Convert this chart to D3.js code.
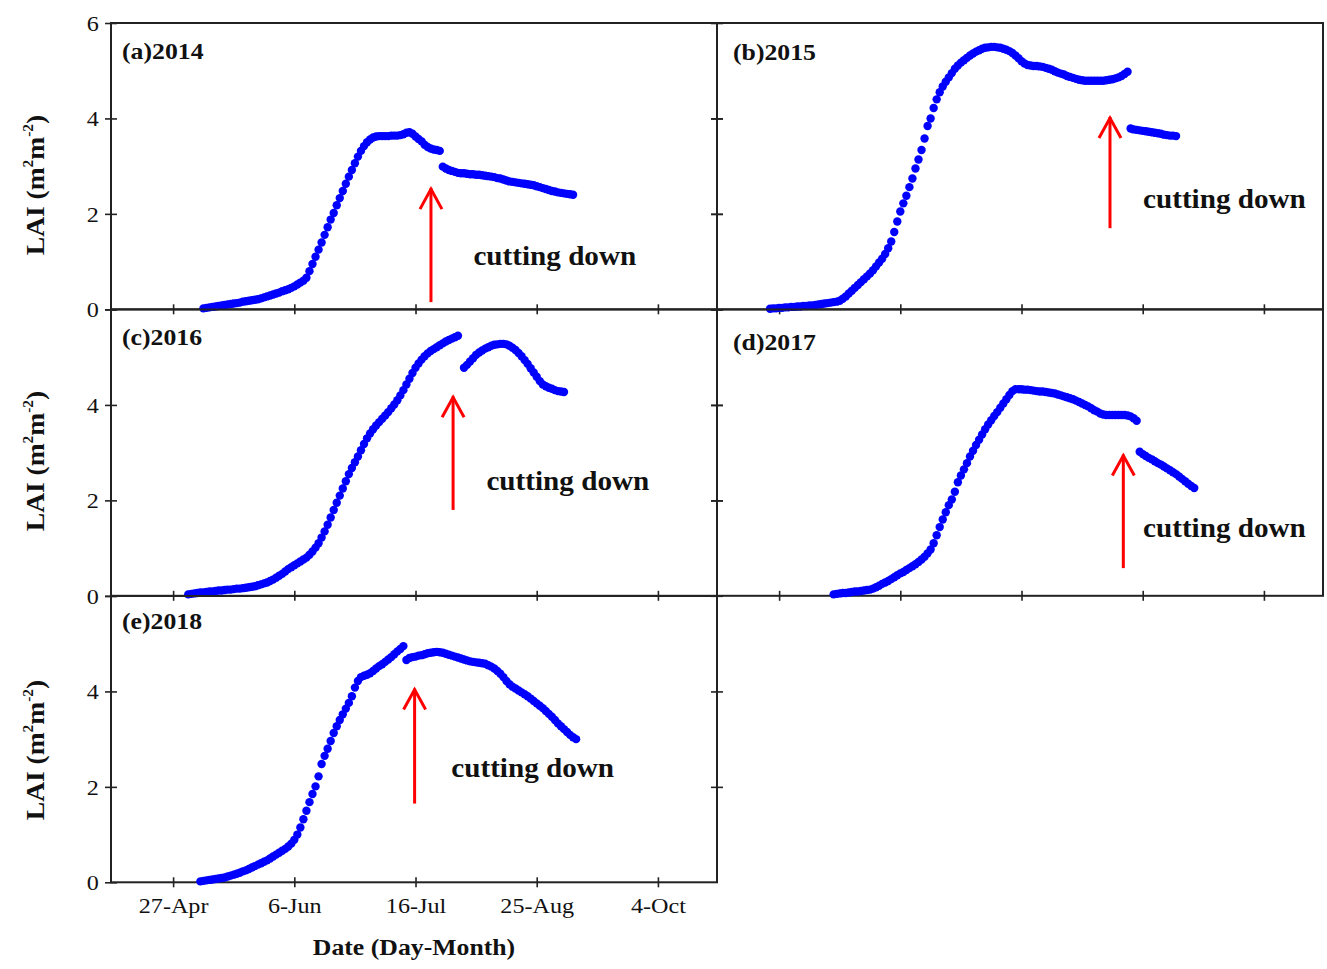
<!DOCTYPE html>
<html>
<head>
<meta charset="utf-8">
<script src="https://cdn.jsdelivr.net/npm/d3@7"></script>
<style>
body{margin:0;background:#fff}
</style>
</head>
<body>
<div id="chart"></div>
<script>
// x axis ticks (day of year) and their labels
var tickDays = [117, 157, 197, 237, 277];
var tickLabels = ["27-Apr", "6-Jun", "16-Jul", "25-Aug", "4-Oct"];
var yTicks = [0, 2, 4, 6];
var panelNames = ["(a)2014", "(b)2015", "(c)2016", "(d)2017", "(e)2018"];

// LAI daily values before cutting down (first day of year in preStart)
var preStart = [127, 114, 122, 135, 126];
var pre2014 = [0.02,0.03,0.04,0.05,0.06,0.07,0.08,0.09,0.10,0.11,
  0.12,0.13,0.14,0.16,0.17,0.18,0.19,0.20,0.21,0.23,
  0.25,0.27,0.29,0.31,0.33,0.35,0.38,0.40,0.42,0.45,
  0.48,0.52,0.56,0.60,0.66,0.80,0.95,1.10,1.25,1.40,
  1.56,1.72,1.88,2.02,2.18,2.33,2.48,2.63,2.78,2.92,
  3.06,3.20,3.32,3.42,3.50,3.56,3.60,3.62,3.63,3.63,
  3.63,3.63,3.64,3.64,3.64,3.65,3.67,3.70,3.71,3.68,
  3.62,3.57,3.52,3.45,3.40,3.37,3.35,3.34,3.32];
var pre2015 = [0.01,0.02,0.02,0.03,0.03,0.04,0.04,0.05,0.05,0.06,
  0.06,0.07,0.07,0.08,0.08,0.09,0.10,0.11,0.12,0.13,
  0.14,0.15,0.16,0.18,0.22,0.27,0.33,0.39,0.45,0.51,
  0.57,0.63,0.69,0.75,0.82,0.90,0.98,1.06,1.16,1.28,
  1.42,1.62,1.84,2.05,2.22,2.38,2.56,2.74,2.95,3.14,
  3.34,3.58,3.84,4.00,4.22,4.40,4.55,4.67,4.77,4.86,
  4.95,5.04,5.11,5.17,5.22,5.27,5.32,5.36,5.40,5.43,
  5.46,5.48,5.49,5.50,5.50,5.49,5.48,5.46,5.44,5.41,
  5.37,5.32,5.26,5.20,5.15,5.12,5.11,5.10,5.10,5.09,
  5.08,5.06,5.04,5.02,4.99,4.96,4.94,4.92,4.89,4.87,
  4.85,4.83,4.81,4.80,4.79,4.79,4.79,4.79,4.79,4.79,
  4.79,4.80,4.81,4.82,4.84,4.86,4.89,4.93,4.98];
var pre2016 = [0.03,0.04,0.05,0.06,0.07,0.07,0.08,0.09,0.09,0.10,
  0.11,0.11,0.12,0.13,0.13,0.14,0.15,0.15,0.16,0.17,
  0.18,0.19,0.20,0.22,0.24,0.26,0.28,0.31,0.34,0.38,
  0.42,0.46,0.51,0.56,0.60,0.64,0.68,0.72,0.76,0.80,
  0.86,0.93,1.01,1.10,1.22,1.35,1.49,1.64,1.80,1.95,
  2.10,2.25,2.40,2.55,2.68,2.80,2.92,3.05,3.18,3.30,
  3.40,3.49,3.57,3.64,3.71,3.78,3.85,3.93,4.01,4.10,
  4.20,4.31,4.43,4.55,4.67,4.78,4.87,4.95,5.02,5.08,
  5.13,5.17,5.21,5.25,5.29,5.33,5.36,5.39,5.42,5.45];
var pre2017 = [0.03,0.04,0.05,0.06,0.06,0.07,0.08,0.09,0.09,0.10,
  0.11,0.12,0.13,0.15,0.18,0.21,0.25,0.28,0.31,0.35,
  0.39,0.43,0.47,0.50,0.54,0.58,0.62,0.66,0.71,0.76,
  0.82,0.89,0.97,1.10,1.27,1.44,1.60,1.75,1.90,2.02,
  2.18,2.38,2.52,2.65,2.78,2.92,3.04,3.16,3.27,3.38,
  3.49,3.59,3.68,3.77,3.85,3.94,4.03,4.12,4.21,4.29,
  4.33,4.33,4.33,4.32,4.32,4.31,4.30,4.29,4.28,4.28,
  4.27,4.26,4.25,4.24,4.22,4.20,4.18,4.16,4.14,4.12,
  4.09,4.06,4.03,4.00,3.97,3.93,3.89,3.86,3.82,3.80,
  3.79,3.79,3.79,3.79,3.79,3.79,3.79,3.78,3.76,3.72,
  3.67];
var pre2018 = [0.02,0.03,0.04,0.05,0.06,0.07,0.08,0.09,0.10,0.12,
  0.14,0.16,0.18,0.20,0.23,0.25,0.28,0.31,0.34,0.37,
  0.40,0.43,0.46,0.50,0.54,0.58,0.62,0.66,0.70,0.75,
  0.81,0.89,1.00,1.15,1.32,1.50,1.68,1.85,2.01,2.22,
  2.48,2.65,2.80,2.96,3.13,3.27,3.40,3.52,3.64,3.76,
  3.90,4.08,4.22,4.30,4.33,4.35,4.38,4.43,4.48,4.53,
  4.57,4.62,4.67,4.72,4.78,4.84,4.89,4.95];

// LAI daily values after cutting down
var postStart = [206, 233, 213, 236, 194];
var post2014 = [2.99,2.95,2.92,2.90,2.88,2.86,2.85,2.85,2.84,2.83,
  2.83,2.82,2.82,2.81,2.80,2.79,2.78,2.77,2.75,2.74,
  2.72,2.70,2.68,2.67,2.66,2.65,2.64,2.63,2.62,2.61,
  2.60,2.58,2.56,2.54,2.52,2.50,2.48,2.47,2.45,2.44,
  2.43,2.42,2.41,2.40];
var post2015 = [3.79,3.77,3.76,3.75,3.74,3.73,3.72,3.71,3.70,3.69,
  3.68,3.66,3.65,3.64,3.64,3.63];
var post2016 = [4.78,4.84,4.91,4.98,5.05,5.10,5.14,5.18,5.21,5.24,
  5.26,5.27,5.28,5.28,5.27,5.24,5.20,5.15,5.09,5.02,
  4.94,4.86,4.77,4.68,4.59,4.50,4.43,4.39,4.36,4.34,
  4.31,4.29,4.28,4.27];
var post2017 = [3.02,2.97,2.93,2.89,2.86,2.82,2.78,2.75,2.71,2.67,
  2.63,2.59,2.55,2.50,2.45,2.40,2.35,2.30,2.26];
var post2018 = [4.66,4.70,4.72,4.73,4.75,4.76,4.78,4.80,4.81,4.82,
  4.83,4.82,4.81,4.79,4.77,4.75,4.73,4.71,4.69,4.67,
  4.65,4.63,4.62,4.61,4.60,4.59,4.58,4.55,4.52,4.48,
  4.43,4.37,4.30,4.22,4.15,4.10,4.06,4.02,3.98,3.94,
  3.90,3.85,3.80,3.75,3.70,3.65,3.59,3.53,3.47,3.40,
  3.33,3.27,3.21,3.15,3.09,3.04,3.00];

var preValues = [pre2014, pre2015, pre2016, pre2017, pre2018];
var postValues = [post2014, post2015, post2016, post2017, post2018];

// cutting-down arrows (day, LAI from -> LAI to) and note anchor
var cutDay = [202.1, 226.2, 209.4, 230.6, 196.7];
var arrowFrom = [0.15, 1.70, 1.80, 0.58, 1.65];
var arrowTo = [2.54, 4.03, 4.18, 2.96, 4.06];
var noteDay = [216.1, 237.1, 220.4, 237.1, 208.8];
var noteLAI = [0.92, 2.12, 2.22, 1.24, 2.20];

var width = 1327, height = 969;
var colLeft = [111, 717];
var rowTop = [23, 309.5, 596];
var panelW = 606, panelH = 286.3;
var labelDy = [36, 37, 35, 40, 33];
var titleY = [185, 185, 461, 461, 750];
var serif = '"Liberation Serif","Times New Roman",serif';
var axisColor = '#222';

var svg = d3.select('#chart').append('svg')
  .attr('width', width)
  .attr('height', height)
  .style('background', '#fff')
  .style('font-family', serif);

var x = d3.scaleLinear().domain([96.5, 296.5]).range([0, panelW]);
var y = d3.scaleLinear().domain([0, 6]).range([panelH, 0]);

function stretch(sel, sx) {
  sel.attr('transform', function() {
    var t = d3.select(this).attr('transform') || '';
    return t + ' scale(' + sx + ',1)';
  });
}

panelNames.forEach(function(name, i) {
  var col = i % 2, row = Math.floor(i / 2);
  var g = svg.append('g')
    .attr('transform', 'translate(' + colLeft[col] + ',' + rowTop[row] + ')');

  // x axis ticks (crossing the bottom line)
  var xa = g.append('g')
    .attr('transform', 'translate(0,' + panelH + ')')
    .call(d3.axisBottom(x).tickValues(tickDays).tickSize(5)
      .tickFormat(function(d, k) { return row == 2 ? tickLabels[k] : ''; }));
  xa.attr('font-family', null).attr('font-size', null);
  xa.select('.domain').remove();
  xa.selectAll('line').attr('y1', -5).attr('y2', 5)
    .style('stroke', axisColor).style('stroke-width', 1.6);
  xa.selectAll('text')
    .attr('y', 31).attr('dy', null)
    .style('font-family', serif)
    .style('font-size', '21px').style('fill', '#111');
  stretch(xa.selectAll('text'), 1.15);

  // y axis ticks
  var ya = g.append('g')
    .call(d3.axisLeft(y).tickValues(yTicks).tickSize(6)
      .tickFormat(function(d) { return col == 0 && (row == 0 || d < 6) ? d : ''; }));
  ya.attr('font-family', null).attr('font-size', null);
  ya.select('.domain').remove();
  ya.selectAll('line').attr('x1', -6).attr('x2', 6)
    .style('stroke', axisColor).style('stroke-width', 1.6);
  ya.selectAll('text')
    .attr('x', -10.5).attr('dy', '0.35em')
    .style('font-family', serif)
    .style('font-size', '21px').style('fill', '#111');
  stretch(ya.selectAll('text'), 1.15);

  if (col == 0) {
    var yr = g.append('g')
      .attr('transform', 'translate(' + panelW + ',0)')
      .call(d3.axisRight(y).tickValues(yTicks.slice(1, 3)).tickSize(6).tickFormat(''));
    yr.select('.domain').remove();
    yr.selectAll('line').attr('x1', -6).attr('x2', 6)
      .style('stroke', axisColor).style('stroke-width', 1.6);
  }

  // frame
  g.append('rect')
    .attr('width', panelW).attr('height', panelH)
    .style('fill', 'none').style('stroke', axisColor).style('stroke-width', 2);

  // points
  var pts = [];
  preValues[i].forEach(function(v, k) { pts.push({day: preStart[i] + k, lai: v}); });
  postValues[i].forEach(function(v, k) { pts.push({day: postStart[i] + k, lai: v}); });
  g.append('g').selectAll('circle').data(pts).enter().append('circle')
    .attr('cx', function(d) { return x(d.day); })
    .attr('cy', function(d) { return y(d.lai); })
    .attr('r', 4.2)
    .style('fill', '#0000ff');

  // arrow
  var ax = x(cutDay[i]), ay = y(arrowTo[i]);
  g.append('line')
    .attr('x1', ax).attr('x2', ax)
    .attr('y1', y(arrowFrom[i])).attr('y2', ay)
    .style('stroke', '#ff0000').style('stroke-width', 3);
  g.append('polyline')
    .attr('points', [[ax - 11, ay + 21], [ax, ay + 1], [ax + 11, ay + 21]].join(' '))
    .style('fill', 'none').style('stroke', '#ff0000').style('stroke-width', 3);

  // note
  var note = g.append('text')
    .attr('transform', 'translate(' + x(noteDay[i]) + ',' + y(noteLAI[i]) + ')')
    .style('font-size', '27px').style('font-weight', 'bold').style('fill', '#111')
    .text('cutting down');
  stretch(note, 1.08);

  // panel label
  var lab = g.append('text')
    .attr('transform', 'translate(' + (col == 0 ? 11 : 16) + ',' + labelDy[i] + ')')
    .style('font-size', '23px').style('font-weight', 'bold').style('fill', '#111')
    .text(name);
  stretch(lab, 1.12);

  // y title on left column
  if (col == 0) {
    var t = svg.append('text')
      .attr('transform', 'translate(44,' + titleY[i] + ') rotate(-90) scale(1.1,1)')
      .attr('text-anchor', 'middle')
      .style('font-size', '25px').style('font-weight', 'bold').style('fill', '#111');
    t.append('tspan').text('LAI (m');
    t.append('tspan').attr('dy', -11).style('font-size', '14px').text('2');
    t.append('tspan').attr('dy', 11).text('m');
    t.append('tspan').attr('dy', -11).style('font-size', '14px').text('-2');
    t.append('tspan').attr('dy', 11).text(')');
  }
});

// x title
svg.append('text')
  .attr('transform', 'translate(' + (colLeft[0] + panelW / 2) + ',955) scale(1.12,1)')
  .attr('text-anchor', 'middle')
  .style('font-size', '23px').style('font-weight', 'bold').style('fill', '#111')
  .text('Date (Day-Month)');
</script>
</body>
</html>
